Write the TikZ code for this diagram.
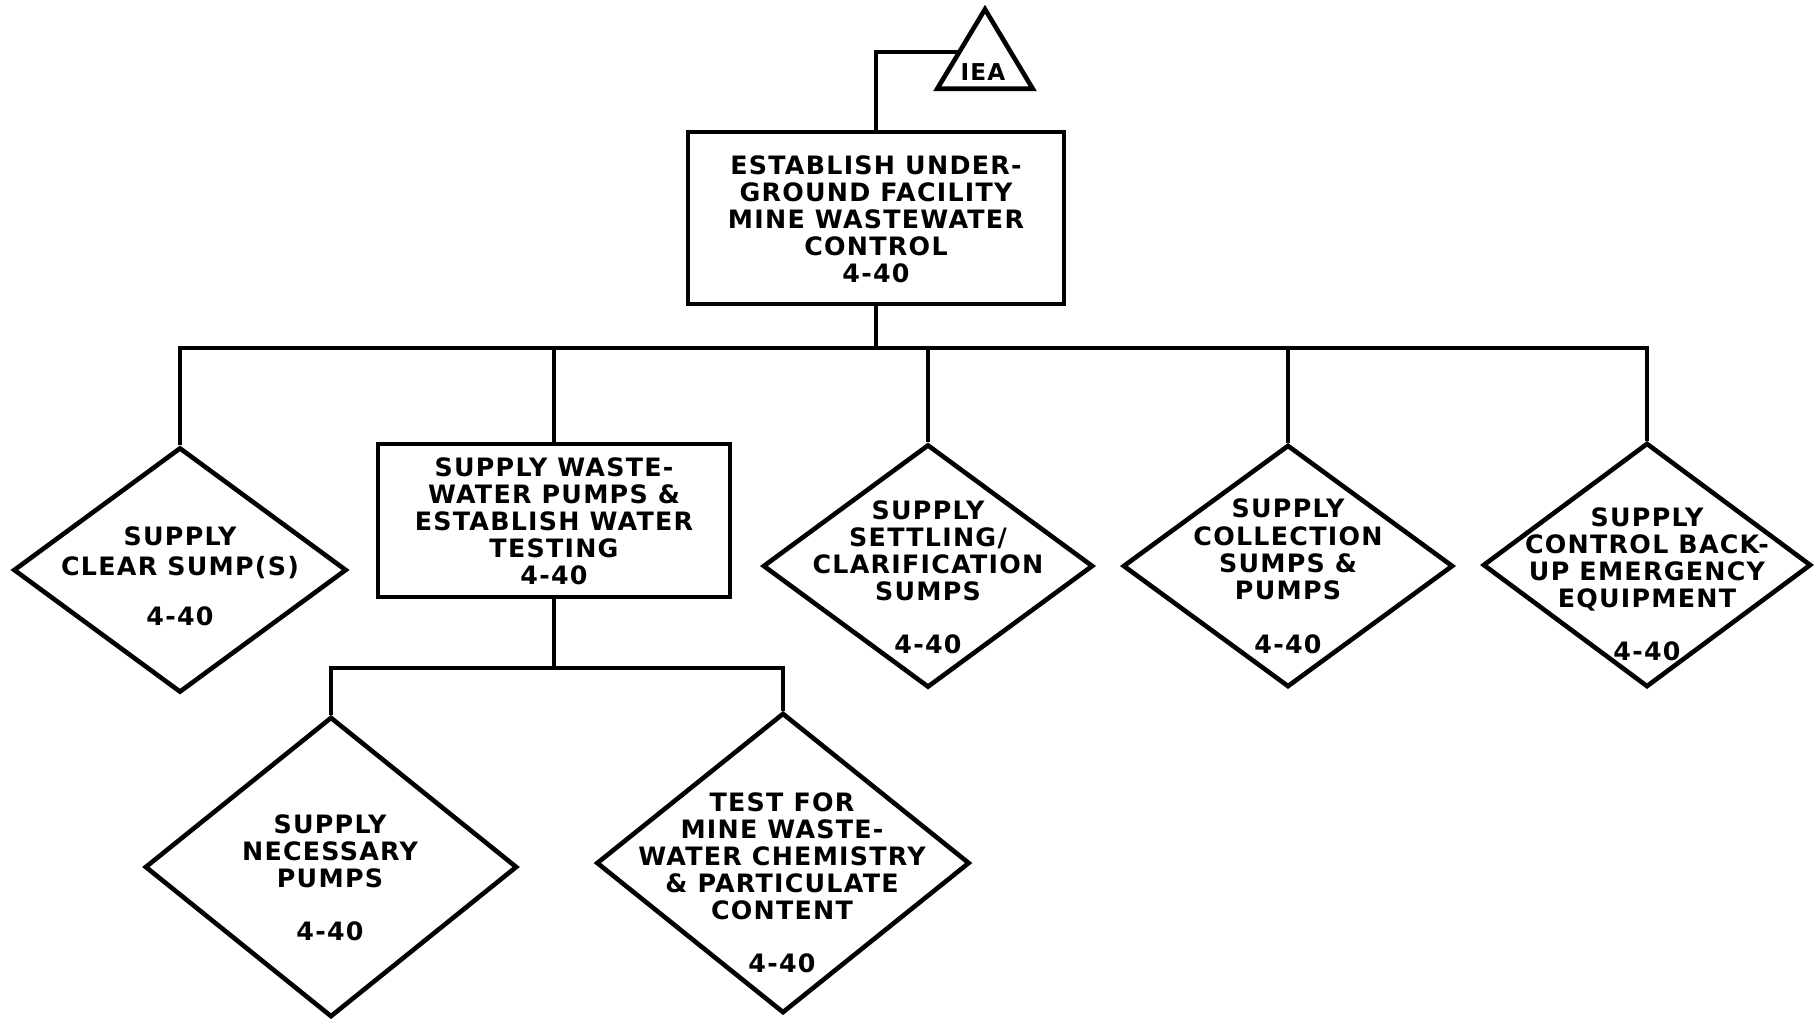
\documentclass[tikz,border=0pt]{standalone}
\usepackage{fontspec}
\newfontfamily\lettering[LetterSpace=5]{DejaVu Sans}
\usetikzlibrary{shapes.geometric,calc}
\begin{document}
\begin{tikzpicture}[x=0.01cm,y=-0.01cm,
  wire/.style={line width=0.46mm},
  box/.style={draw, line width=0.46mm, rectangle, inner sep=0pt},
  dia/.style={draw, line width=0.46mm, diamond, inner sep=0pt},
  lbl/.style={font=\lettering\bfseries\fontsize{7.2pt}{7.68pt}\selectfont, align=center, inner sep=0pt},
  small/.style={font=\lettering\bfseries\fontsize{6.6pt}{7pt}\selectfont, inner sep=0pt},
]
\useasboundingbox (0,0) rectangle (1818,1018);

% top-level task box
\node[box, minimum width=37.6mm, minimum height=17.2mm] (main) at (876,218) {};
\node[lbl] (maintxt) at (876,219.5) {ESTABLISH UNDER-\\GROUND FACILITY\\MINE WASTEWATER\\CONTROL\\4-40};

% IEA triangle
\node[minimum width=9.4mm, minimum height=7.8mm, inner sep=0pt] (iea) at (985,49) {};
\draw[wire] (iea.south west) -- (iea.north) -- (iea.south east) -- cycle;
\node[small] (ieatxt) at (983,72) {IEA};
\coordinate (iealink) at ($(iea.south west)!0.46!(iea.north)$);
\draw[wire] (main.north) |- (iealink);

% second level
\node[dia, minimum width=33.3mm, minimum height=24.5mm] (d1) at (180,570) {};
\node[lbl] (d1txt) at (180,576.5) {SUPPLY\\[0.8pt]CLEAR SUMP(S)\\[6.6pt]4-40};

\node[box, minimum width=35.2mm, minimum height=15.3mm] (b2) at (554,520.5) {};
\node[lbl] (b2txt) at (554,521.5) {SUPPLY WASTE-\\WATER PUMPS \&\\ESTABLISH WATER\\TESTING\\4-40};

\node[dia, minimum width=33mm, minimum height=24.3mm] (d3) at (928,566) {};
\node[lbl] (d3txt) at (928,577.5) {SUPPLY\\SETTLING/\\CLARIFICATION\\SUMPS\\[7.4pt]4-40};

\node[dia, minimum width=33mm, minimum height=24.2mm] (d4) at (1288,566) {};
\node[lbl] (d4txt) at (1288,576.5) {SUPPLY\\COLLECTION\\SUMPS \&\\PUMPS\\[7.8pt]4-40};

\node[dia, minimum width=32.8mm, minimum height=24.4mm] (d5) at (1647,565) {};
\node[lbl] (d5txt) at (1647,584.5) {SUPPLY\\CONTROL BACK-\\UP EMERGENCY\\EQUIPMENT\\[7.4pt]4-40};

% third level
\node[dia, minimum width=37.2mm, minimum height=30mm] (d6) at (331,867) {};
\node[lbl] (d6txt) at (330,877.5) {SUPPLY\\NECESSARY\\PUMPS\\[7.4pt]4-40};

\node[dia, minimum width=37.3mm, minimum height=30mm] (d7) at (783,863) {};
\node[lbl] (d7txt) at (782,883) {TEST FOR\\MINE WASTE-\\WATER CHEMISTRY\\\& PARTICULATE\\CONTENT\\[7.4pt]4-40};

% connectors
\coordinate (bus) at (876,348);
\coordinate (sub) at (554,668);
\draw[wire] (main.south) -- (bus) -| (d1.north);
\draw[wire] (bus) -| (b2.north);
\draw[wire] (bus) -| (d3.north);
\draw[wire] (bus) -| (d4.north);
\draw[wire] (bus) -| (d5.north);
\draw[wire] (b2.south) -- (sub) -| (d6.north);
\draw[wire] (sub) -| (d7.north);
\end{tikzpicture}
\end{document}
